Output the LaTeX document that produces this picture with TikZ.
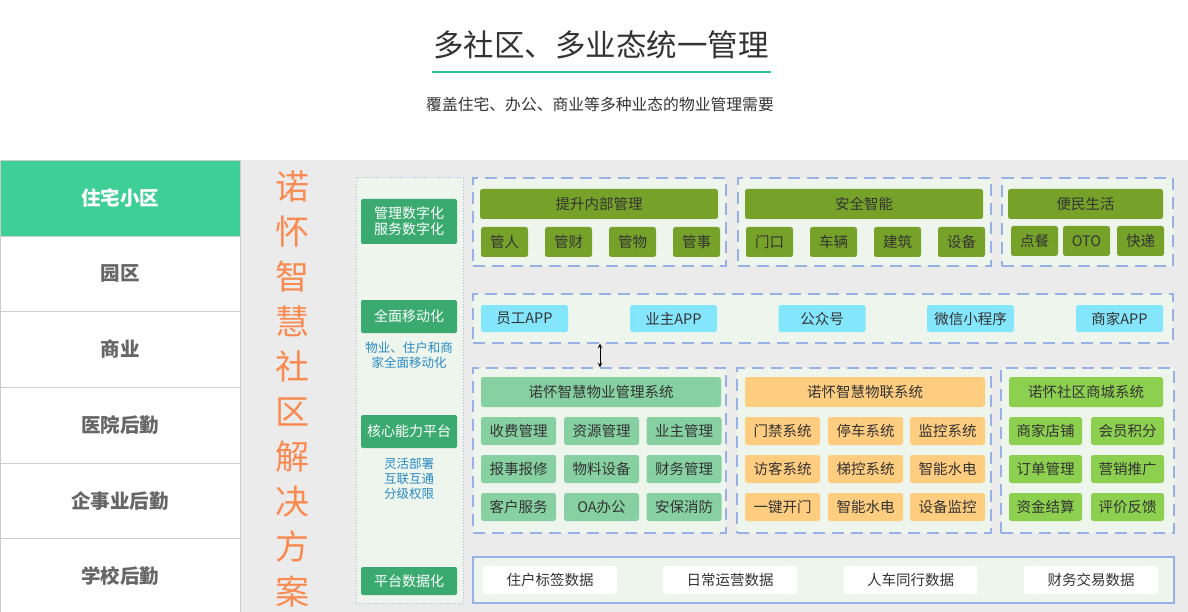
\documentclass[tikz,border=0pt]{standalone}
\usepackage{fontspec}
\setmainfont{Noto Sans CJK SC}
\usetikzlibrary{arrows.meta,positioning}

\definecolor{titleline}{HTML}{2BC09A}
\definecolor{tabgreen}{HTML}{3ECF96}
\definecolor{tabline}{HTML}{CCCCCC}
\definecolor{tabtext}{HTML}{666666}
\definecolor{panelgray}{HTML}{EBEBEB}
\definecolor{brandorange}{HTML}{FA8A50}
\definecolor{palegreen}{HTML}{EDF5EC}
\definecolor{dashblue}{HTML}{97B1E6}
\definecolor{dotblue}{HTML}{A8BCD8}
\definecolor{labelgreen}{HTML}{3BAA70}
\definecolor{noteblue}{HTML}{2A8AC6}
\definecolor{olive}{HTML}{76A22A}
\definecolor{appcyan}{HTML}{84E6FC}
\definecolor{mintgreen}{HTML}{86D0A2}
\definecolor{apricot}{HTML}{FFCD80}
\definecolor{leafgreen}{HTML}{8DD04F}
\definecolor{boxtext}{HTML}{333333}

\begin{document}
\begin{tikzpicture}[x=1pt,y=-1pt,
  tab/.style={draw=tabline, minimum width=240pt, minimum height=75.7pt, inner sep=0pt,
    text=tabtext, font=\fontsize{19.5}{20}\selectfont\bfseries},
  group/.style={draw=dashblue, line width=1.4pt, dash pattern=on 12pt off 7pt, fill=palegreen, inner sep=0pt},
  lbl/.style={fill=labelgreen, text=white, rounded corners=2pt, minimum width=96pt, inner sep=0pt,
    align=center, font=\fontsize{14}{18}\selectfont},
  note/.style={text=noteblue, align=center, font=\fontsize{12.5}{16}\selectfont},
  cell/.style={rounded corners=2.5pt, text=boxtext, inner sep=0pt, font=\fontsize{14.5}{16}\selectfont}]
  \useasboundingbox (0,0) rectangle (1188,612);

  % 标题
  \node[text=boxtext, font=\fontsize{30.5}{32}\selectfont] (title) at (601,45) {多社区、多业态统一管理};
  \draw[titleline, line width=2.5pt] (432,72) -- (771,72);
  \node[text=boxtext, font=\fontsize{15.8}{18}\selectfont] (subtitle) at (600,104) {覆盖住宅、办公、商业等多种业态的物业管理需要};

  % 左侧业态
  \fill[panelgray] (240,160) rectangle (1188,612);
  \node[tab, fill=tabgreen, text=white] (zhuzhai) at (120,197.9) {住宅小区};
  \node[tab, fill=white] (yuanqu) at (120,273.6) {园区};
  \node[tab, fill=white] (shangye) at (120,349.3) {商业};
  \node[tab, fill=white] (yiyuan) at (120,425) {医院后勤};
  \node[tab, fill=white] (qishiye) at (120,500.7) {企事业后勤};
  \node[tab, fill=white] (xuexiao) at (120,576.4) {学校后勤};

  \node[text=brandorange, align=center, font=\fontsize{34}{45}\selectfont] (brand) at (292,389)
    {诺\\怀\\智\\慧\\社\\区\\解\\决\\方\\案};

  % 能力说明列
  \node[draw=dotblue, dotted, line width=1pt, fill=palegreen, minimum width=107pt, minimum height=425pt] (side) at (409.5,390.5) {};
  \node[lbl, minimum height=45pt] (shuzi) at (409,221.5) {管理数字化\\[-2pt]服务数字化};
  \node[lbl, minimum height=33pt] (yidonghua) at (409,316.5) {全面移动化};
  \node[note] (note1) at (409,355) {物业、住户和商\\[-1pt]家全面移动化};
  \node[lbl, minimum height=33pt] (hexin) at (409,431.5) {核心能力平台};
  \node[note] (note2) at (409,479) {灵活部署\\[-1pt]互联互通\\[-1pt]分级权限};
  \node[lbl, minimum height=28pt] (shujuhua) at (409,581) {平台数据化};

  % 第一行
  \node[group, minimum width=253pt, minimum height=88pt] (neibu) at (599.5,222) {};
  \node[group, minimum width=253pt, minimum height=88pt] (anquan) at (864.5,222) {};
  \node[group, minimum width=171pt, minimum height=88pt] (bianmin) at (1087.5,222) {};
  \node[cell, fill=olive, minimum width=238pt, minimum height=30pt] (tisheng) at (599,204) {提升内部管理};
  \node[cell, fill=olive, minimum width=238pt, minimum height=30pt] (anquanzn) at (864,204) {安全智能};
  \node[cell, fill=olive, minimum width=155pt, minimum height=30pt] (shenghuo) at (1085.5,204) {便民生活};
  \node[cell, fill=olive, minimum width=47pt, minimum height=30pt] (guanren) at (504.5,242) {管人};
  \node[cell, fill=olive, minimum width=47pt, minimum height=30pt] (guancai) at (568.5,242) {管财};
  \node[cell, fill=olive, minimum width=47pt, minimum height=30pt] (guanwu) at (632.5,242) {管物};
  \node[cell, fill=olive, minimum width=47pt, minimum height=30pt] (guanshi) at (696.5,242) {管事};
  \node[cell, fill=olive, minimum width=47pt, minimum height=30pt] (menkou) at (769.5,242) {门口};
  \node[cell, fill=olive, minimum width=47pt, minimum height=30pt] (cheliang) at (833.5,242) {车辆};
  \node[cell, fill=olive, minimum width=47pt, minimum height=30pt] (jianzhu) at (897.5,242) {建筑};
  \node[cell, fill=olive, minimum width=47pt, minimum height=30pt] (shebei) at (961.5,242) {设备};
  \node[cell, fill=olive, minimum width=47pt, minimum height=30pt] (diancan) at (1034.5,241) {点餐};
  \node[cell, fill=olive, minimum width=47pt, minimum height=30pt] (oto) at (1086.5,241) {OTO};
  \node[cell, fill=olive, minimum width=47pt, minimum height=30pt] (kuaidi) at (1140.5,241) {快递};

  % 移动端
  \node[group, minimum width=700pt, minimum height=49pt] (yidong) at (823,318.5) {};
  \node[cell, fill=appcyan, minimum width=87pt, minimum height=27pt] (yuangong) at (524.5,318.5) {员工APP};
  \node[cell, fill=appcyan, minimum width=87pt, minimum height=27pt] (yezhu) at (673.5,318.5) {业主APP};
  \node[cell, fill=appcyan, minimum width=87pt, minimum height=27pt] (gongzhong) at (822,318.5) {公众号};
  \node[cell, fill=appcyan, minimum width=87pt, minimum height=27pt] (xiaochengxu) at (970.5,318.5) {微信小程序};
  \node[cell, fill=appcyan, minimum width=87pt, minimum height=27pt] (shangjia) at (1119.5,318.5) {商家APP};

  % 核心系统
  \node[group, minimum width=253pt, minimum height=165pt] (wuye) at (599.5,450.5) {};
  \node[group, minimum width=254pt, minimum height=165pt] (wulian) at (864,450.5) {};
  \node[group, minimum width=173pt, minimum height=165pt] (shangcheng) at (1087.5,450.5) {};
  \coordinate (arr) at (600,0);
  \draw[<->,>=stealth, line width=1pt] (yidong.south -| arr) -- (wuye.north -| arr);

  \node[cell, fill=mintgreen, minimum width=240pt, minimum height=30pt] (wuyesys) at (601,392) {诺怀智慧物业管理系统};
  \node[cell, fill=mintgreen, minimum width=75pt, minimum height=28pt] (shoufei) at (518.5,431) {收费管理};
  \node[cell, fill=mintgreen, minimum width=75pt, minimum height=28pt] (ziyuan) at (601.5,431) {资源管理};
  \node[cell, fill=mintgreen, minimum width=75pt, minimum height=28pt] (yezhugl) at (684,431) {业主管理};
  \node[cell, fill=mintgreen, minimum width=75pt, minimum height=28pt] (baoshi) at (518.5,469) {报事报修};
  \node[cell, fill=mintgreen, minimum width=75pt, minimum height=28pt] (wuliao) at (601.5,469) {物料设备};
  \node[cell, fill=mintgreen, minimum width=75pt, minimum height=28pt] (caiwu) at (684,469) {财务管理};
  \node[cell, fill=mintgreen, minimum width=75pt, minimum height=28pt] (kehu) at (518.5,507) {客户服务};
  \node[cell, fill=mintgreen, minimum width=75pt, minimum height=28pt] (oa) at (601.5,507) {OA办公};
  \node[cell, fill=mintgreen, minimum width=75pt, minimum height=28pt] (anbao) at (684,507) {安保消防};

  \node[cell, fill=apricot, minimum width=240pt, minimum height=30pt] (wuliansys) at (865,392) {诺怀智慧物联系统};
  \node[cell, fill=apricot, minimum width=75pt, minimum height=28pt] (menjin) at (782.5,431) {门禁系统};
  \node[cell, fill=apricot, minimum width=75pt, minimum height=28pt] (tingche) at (865.5,431) {停车系统};
  \node[cell, fill=apricot, minimum width=75pt, minimum height=28pt] (jiankong) at (947.5,431) {监控系统};
  \node[cell, fill=apricot, minimum width=75pt, minimum height=28pt] (fangke) at (782.5,469) {访客系统};
  \node[cell, fill=apricot, minimum width=75pt, minimum height=28pt] (tikong) at (865.5,469) {梯控系统};
  \node[cell, fill=apricot, minimum width=75pt, minimum height=28pt] (shuidian) at (947.5,469) {智能水电};
  \node[cell, fill=apricot, minimum width=75pt, minimum height=28pt] (yijian) at (782.5,507) {一键开门};
  \node[cell, fill=apricot, minimum width=75pt, minimum height=28pt] (shuidianb) at (865.5,507) {智能水电};
  \node[cell, fill=apricot, minimum width=75pt, minimum height=28pt] (shebeijk) at (947.5,507) {设备监控};

  \node[cell, fill=leafgreen, minimum width=154pt, minimum height=30pt] (shangchengsys) at (1086,392) {诺怀社区商城系统};
  \node[cell, fill=leafgreen, minimum width=73pt, minimum height=28pt] (dianpu) at (1045.5,431) {商家店铺};
  \node[cell, fill=leafgreen, minimum width=73pt, minimum height=28pt] (huiyuan) at (1127.5,431) {会员积分};
  \node[cell, fill=leafgreen, minimum width=73pt, minimum height=28pt] (dingdan) at (1045.5,469) {订单管理};
  \node[cell, fill=leafgreen, minimum width=73pt, minimum height=28pt] (yingxiao) at (1127.5,469) {营销推广};
  \node[cell, fill=leafgreen, minimum width=73pt, minimum height=28pt] (jiesuan) at (1045.5,507) {资金结算};
  \node[cell, fill=leafgreen, minimum width=73pt, minimum height=28pt] (pingjia) at (1127.5,507) {评价反馈};

  % 数据层
  \node[draw=dashblue, line width=1.4pt, fill=palegreen, minimum width=701pt, minimum height=46pt] (shuju) at (823.5,580) {};
  \node[cell, fill=white, minimum width=134pt, minimum height=28pt] (biaoqian) at (550,580) {住户标签数据};
  \node[cell, fill=white, minimum width=134pt, minimum height=28pt] (yunying) at (730,580) {日常运营数据};
  \node[cell, fill=white, minimum width=134pt, minimum height=28pt] (tongxing) at (910.5,580) {人车同行数据};
  \node[cell, fill=white, minimum width=134pt, minimum height=28pt] (jiaoyi) at (1091,580) {财务交易数据};
\end{tikzpicture}
\end{document}
